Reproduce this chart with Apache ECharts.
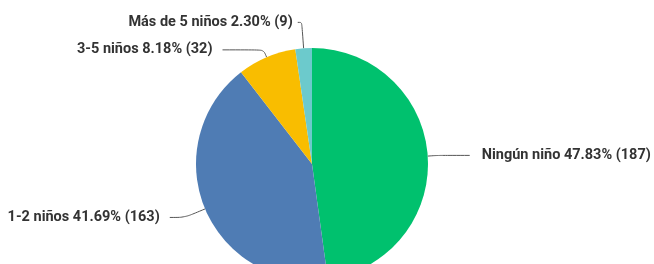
<!DOCTYPE html>
<html>
<head>
<meta charset="utf-8">
<script src="https://cdn.jsdelivr.net/npm/echarts@6/dist/echarts.min.js"></script>
<style>
html,body{margin:0;padding:0;background:#fff;}
#chart{width:654px;height:264px;}
</style>
</head>
<body>
<div id="chart"></div>
<script>
const categories = ['Ningún niño', '1-2 niños', '3-5 niños', 'Más de 5 niños'];
const counts = [187, 163, 32, 9];
const percents = ['47.83', '41.69', '8.18', '2.30'];
const colors = ['#00C16E', '#4F7CB4', '#F9BD00', '#6CCACC'];

// per-slice label line lengths (styling only)
const lineLen = [10, 22, 8, 26];
const lineLen2 = [32, 15, 41, 4];
const labelGap = [12, 10, 10, 5];

const chart = echarts.init(document.getElementById('chart'));
const data = categories.map((c, i) => ({
  name: c,
  value: counts[i],
  itemStyle: { color: colors[i] },
  label: { distanceToLabelLine: labelGap[i] },
  labelLine: { length: lineLen[i], length2: lineLen2[i] }
}));

chart.setOption({
  animation: false,
  series: [{
    type: 'pie',
    center: [312, 164],
    radius: 116,
    startAngle: 90,
    clockwise: true,
    avoidLabelOverlap: false,
    itemStyle: { borderWidth: 0 },
    label: {
      show: true,
      position: 'outside',
      fontFamily: 'Roboto',
      fontSize: 14.5,
      fontWeight: 'bold',
      color: '#333',
      formatter: p => p.name + ' ' + percents[p.dataIndex] + '% (' + counts[p.dataIndex] + ')'
    },
    labelLine: {
      show: true,
      smooth: 0.3,
      lineStyle: { color: '#555', width: 1 }
    },
    data: data
  }]
});
</script>
</body>
</html>
